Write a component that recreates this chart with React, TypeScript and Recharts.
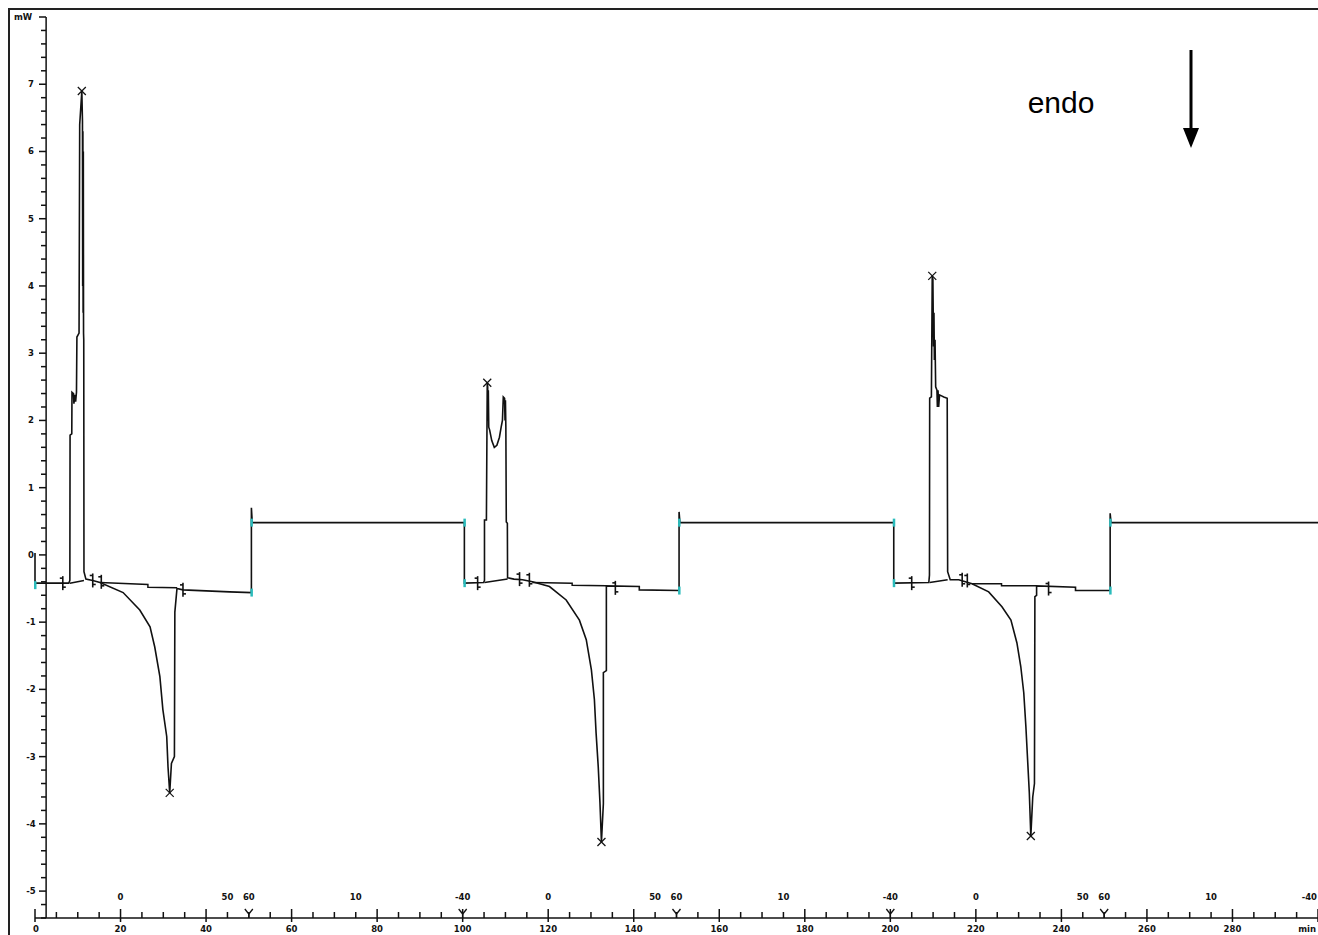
import { ReactElement } from "react";
import { ComposedChart, Line, Scatter, XAxis, YAxis, ReferenceLine } from "recharts";

// trace readings per cycle: [time in min, heat flow in mW]
const cycle1Trace: [number, number][] = [
  [0, 0.03], [0, -0.42], [7.9, -0.42], [8.15, -0.38], [8.2, 1.78], [8.6, 1.8], [8.65, 2.42],
  [9.0, 2.4], [9.1, 2.25], [9.3, 2.38], [9.5, 2.28], [9.7, 2.42], [9.8, 3.24], [10.3, 3.3],
  [10.45, 6.4], [10.95, 6.9], [11.1, 6.45], [11.15, 4.0], [11.2, 6.3], [11.25, 3.6], [11.3, 6.0],
  [11.35, 3.3], [11.4, 3.2], [11.45, -0.25], [11.9, -0.36], [13.5, -0.38], [15.2, -0.41],
  [20.6, -0.56], [24.5, -0.82], [26.9, -1.07], [28.0, -1.37], [29.2, -1.81], [29.9, -2.3],
  [30.8, -2.7], [31.1, -3.15], [31.5, -3.54], [31.9, -3.1], [32.6, -3.0], [32.7, -0.85],
  [33.2, -0.5], [34.6, -0.52], [45.5, -0.55], [50.6, -0.56], [50.6, 0.7], [50.8, 0.48], [100.4, 0.48],
];

const cycle2Trace: [number, number][] = [
  [100.4, -0.42], [104.9, -0.41], [105.1, -0.38], [105.1, 0.52], [105.55, 0.52], [105.75, 2.56],
  [105.85, 2.5], [105.9, 2.0], [106.0, 2.45], [106.1, 1.9], [106.3, 1.86], [106.8, 1.7],
  [107.4, 1.6], [108.0, 1.63], [108.6, 1.75], [109.0, 1.9], [109.3, 2.0], [109.5, 2.35],
  [109.8, 2.33], [109.9, 2.0], [110.0, 2.3], [110.1, 1.9], [110.2, 0.49], [110.45, 0.47],
  [110.5, -0.34], [112.0, -0.36], [114.0, -0.37], [116.3, -0.4], [120.3, -0.47], [124.2, -0.67],
  [127.3, -0.97], [128.9, -1.26], [130.1, -1.71], [130.8, -2.15], [131.2, -2.65], [131.7, -3.15],
  [132.1, -3.68], [132.45, -4.27], [132.9, -3.7], [132.9, -1.75], [133.6, -1.72], [133.6, -0.46],
  [141.3, -0.47], [141.3, -0.52], [150.6, -0.53], [150.6, 0.64], [150.8, 0.48], [200.8, 0.48],
];

const cycle3Trace: [number, number][] = [
  [200.8, -0.42], [209.0, -0.41], [209.15, -0.3], [209.2, 2.33], [209.6, 2.35], [209.8, 4.15],
  [209.95, 4.1], [210.1, 3.1], [210.2, 3.6], [210.3, 2.9], [210.45, 3.2], [210.6, 2.5],
  [210.9, 2.45], [211.0, 2.2], [211.15, 2.45], [211.3, 2.2], [211.5, 2.38], [212.5, 2.35],
  [213.3, 2.33], [213.4, -0.25], [214.0, -0.37], [216.0, -0.37], [219.1, -0.43], [223.0, -0.55],
  [226.1, -0.77], [228.2, -0.97], [229.6, -1.31], [230.5, -1.66], [231.2, -2.05], [231.7, -2.56],
  [232.1, -3.05], [232.5, -3.54], [232.85, -4.18], [233.3, -3.6], [233.7, -3.4], [233.8, -0.62],
  [234.2, -0.6], [234.2, -0.46], [243.3, -0.48], [243.3, -0.53], [251.4, -0.53], [251.4, 0.62],
  [251.6, 0.48], [300, 0.48],
];

// constructed peak baselines (null = gap)
const baselineTrace: [number, number | null][] = [
  [8.15, -0.42], [11.45, -0.38], [11.5, null],
  [15.2, -0.41], [26.4, -0.44], [26.4, -0.48], [33.2, -0.49], [33.3, null],
  [105.1, -0.41], [110.5, -0.36], [110.6, null],
  [116.3, -0.41], [125.6, -0.42], [125.6, -0.45], [133.6, -0.46], [133.7, null],
  [209.2, -0.41], [213.4, -0.37], [213.5, null],
  [219.1, -0.43], [226.0, -0.43], [226.0, -0.46], [234.2, -0.46],
];

// peak picks (x marks)
const peakTimes = [10.95, 105.75, 209.8, 31.5, 132.45, 232.85];
const peakValues = [6.9, 2.56, 4.15, -3.54, -4.27, -4.18];

// segment change points (cyan marks)
const segmentMarkTimes = [0, 50.6, 50.6, 100.4, 100.4, 150.6, 150.6, 200.8, 200.8, 251.4, 251.4];
const segmentMarkValues = [-0.45, -0.56, 0.48, 0.48, -0.42, -0.53, 0.48, 0.48, -0.42, -0.53, 0.48];

// integration limits
const limitTimes = [6.5, 13.5, 15.5, 34.6, 103.5, 113.3, 115.6, 135.7, 205.0, 216.8, 218.0, 237.0];
const limitValues = [-0.42, -0.38, -0.4, -0.52, -0.42, -0.36, -0.37, -0.49, -0.42, -0.37, -0.38, -0.5];

// segment boundaries on time axis
const segmentTimes = [50, 100, 150, 200, 250];

// temperature program labels (°C) above the time axis
const tempTimes = [20, 45, 50, 75, 100, 120, 145, 150, 175, 200, 220, 245, 250, 275, 300];
const tempLabels = ["0", "50", "60", "10", "-40", "0", "50", "60", "10", "-40", "0", "50", "60", "10", "-40"];

// axis labels
const xLabelTimes = [0, 20, 40, 60, 80, 100, 120, 140, 160, 180, 200, 220, 240, 260, 280, 300];
const xLabelTexts = ["0", "20", "40", "60", "80", "100", "120", "140", "160", "180", "200", "220", "240", "260", "280", "min"];
const yLabelValues = [-5, -4, -3, -2, -1, 0, 1, 2, 3, 4, 5, 6, 7, 8];
const yLabelTexts = ["-5", "-4", "-3", "-2", "-1", "0", "1", "2", "3", "4", "5", "6", "7", "mW"];

const W = 1318;
const H = 935;
const TOP = 17;
const XAXIS_H = 17;
const YAXIS_W = 35;
const PLOT_BOTTOM = H - XAXIS_H;
const AXIS_X = 46; // instrument draws its mW axis a little inside the time origin
const yAxisTime = 2.6;
const tempRowValue = -5.09;
const axisValue = -5.4;

const trace = [...cycle1Trace, ...cycle2Trace, ...cycle3Trace].map(([t, v]) => ({ t, v }));
const baseline = baselineTrace.map(([t, v]) => ({ t, v }));
const peaks = peakTimes.map((t, i) => ({ t, v: peakValues[i] }));
const segMarks = segmentMarkTimes.map((t, i) => ({ t, v: segmentMarkValues[i] }));
const limits = limitTimes.map((t, i) => ({ t, v: limitValues[i] }));
const segBounds = segmentTimes.map((t) => ({ t, v: axisValue }));
const temps = tempTimes.map((t, i) => ({ t, v: tempRowValue, label: tempLabels[i] }));

const xTicks: number[] = [];
for (let t = 0; t <= 300; t += 5) xTicks.push(t);
const yTicks: number[] = [];
for (let i = -27; i <= 40; i++) yTicks.push(i / 5);

const labelFont = { fontFamily: "DejaVu Sans", fontSize: 8.5, fontWeight: "bold" as const, fill: "#111" };

function YTick({ y, payload }: any): ReactElement {
  const value = Math.round(payload.value * 10) / 10;
  const idx = yLabelValues.indexOf(value);
  const major = idx >= 0;
  const text = major ? yLabelTexts[idx] : "";
  return (
    <g>
      <line x1={AXIS_X - (major ? 7 : 5)} x2={AXIS_X} y1={y} y2={y} stroke="#111" strokeWidth={1.5} />
      {major && (
        <text x={text === "mW" ? AXIS_X - 23 : AXIS_X - 15} y={y} textAnchor="middle" dominantBaseline="central" {...labelFont}>
          {text}
        </text>
      )}
    </g>
  );
}

function XTick({ x, payload }: any): ReactElement {
  const t = payload.value;
  const idx = xLabelTimes.indexOf(t);
  const major = idx >= 0;
  const text = major ? xLabelTexts[idx] : "";
  const last = text === "min";
  return (
    <g>
      <line x1={x} x2={x} y1={PLOT_BOTTOM - (major ? 9 : 6)} y2={PLOT_BOTTOM + (major ? 4 : 0)} stroke="#111" strokeWidth={1.5} />
      {major && (
        <text
          x={last ? x - 2 : t === 0 ? x + 1 : x}
          y={PLOT_BOTTOM + 11}
          textAnchor={last ? "end" : "middle"}
          dominantBaseline="central"
          {...labelFont}
        >
          {text}
        </text>
      )}
    </g>
  );
}

const XMark = ({ cx, cy }: any): ReactElement => (
  <g stroke="#111" strokeWidth={1.2}>
    <line x1={cx - 4} y1={cy - 4} x2={cx + 4} y2={cy + 4} />
    <line x1={cx - 4} y1={cy + 4} x2={cx + 4} y2={cy - 4} />
  </g>
);

const CyanMark = ({ cx, cy }: any): ReactElement => (
  <rect x={cx - 1} y={cy - 4} width={2.5} height={8} fill="#2bbcbc" />
);

const LimitMark = ({ cx, cy }: any): ReactElement => (
  <g stroke="#111" strokeWidth={1.6}>
    <line x1={cx} y1={cy - 7} x2={cx} y2={cy + 7} />
    <line x1={cx - 3} y1={cy - 5} x2={cx} y2={cy - 5} />
    <line x1={cx} y1={cy + 4} x2={cx + 3} y2={cy + 4} />
  </g>
);

const SegmentMark = ({ cx, cy }: any): ReactElement => (
  <g stroke="#111" strokeWidth={1.3}>
    <line x1={cx - 4} y1={cy - 9} x2={cx} y2={cy - 4} />
    <line x1={cx + 4} y1={cy - 9} x2={cx} y2={cy - 4} />
    <line x1={cx} y1={cy - 4} x2={cx} y2={cy} />
  </g>
);

const TempLabel = ({ cx, cy, payload }: any): ReactElement => {
  const atEdge = payload.t >= 300;
  return (
    <text x={atEdge ? cx - 1 : cx} y={cy} textAnchor={atEdge ? "end" : "middle"} dominantBaseline="central" {...labelFont}>
      {payload.label}
    </text>
  );
};

export default function App(): ReactElement {
  return (
    <div style={{ position: "absolute", left: 0, top: 0, width: W, height: H, background: "#fff", overflow: "hidden" }}>
      <div style={{ position: "absolute", left: 8, top: 8, width: W + 10, height: H + 10, borderLeft: "2px solid #222", borderTop: "2px solid #222" }} />
      <ComposedChart width={W} height={H} margin={{ top: TOP, right: 0, left: 0, bottom: 0 }}>
        <XAxis
          dataKey="t"
          type="number"
          domain={[0, 300]}
          ticks={xTicks}
          interval={0}
          height={XAXIS_H}
          tickLine={false}
          axisLine={{ stroke: "#111", strokeWidth: 1.5 }}
          tick={<XTick />}
        />
        <YAxis
          dataKey="v"
          type="number"
          domain={[axisValue, 8]}
          ticks={yTicks}
          interval={0}
          width={YAXIS_W}
          tickLine={false}
          axisLine={false}
          tick={<YTick />}
        />
        <ReferenceLine x={yAxisTime} stroke="#111" strokeWidth={1.5} />
        <Line data={baseline} dataKey="v" type="linear" stroke="#111" strokeWidth={1.5} dot={false} connectNulls={false} isAnimationActive={false} />
        <Line data={trace} dataKey="v" type="linear" stroke="#111" strokeWidth={1.6} dot={false} isAnimationActive={false} />
        <Scatter data={limits} dataKey="v" shape={<LimitMark />} isAnimationActive={false} />
        <Scatter data={segMarks} dataKey="v" shape={<CyanMark />} isAnimationActive={false} />
        <Scatter data={peaks} dataKey="v" shape={<XMark />} isAnimationActive={false} />
        <Scatter data={segBounds} dataKey="v" shape={<SegmentMark />} isAnimationActive={false} />
        <Scatter data={temps} dataKey="v" shape={<TempLabel />} isAnimationActive={false} />
      </ComposedChart>
      <svg width={W} height={H} style={{ position: "absolute", left: 0, top: 0, pointerEvents: "none" }}>
        <text x={1061} y={113} textAnchor="middle" fontFamily="Liberation Sans, Arial, sans-serif" fontSize={30} fill="#000">
          endo
        </text>
        <line x1={1191} y1={50} x2={1191} y2={132} stroke="#000" strokeWidth={3} />
        <polygon points="1183,128 1199,128 1191,148" fill="#000" />
      </svg>
    </div>
  );
}
